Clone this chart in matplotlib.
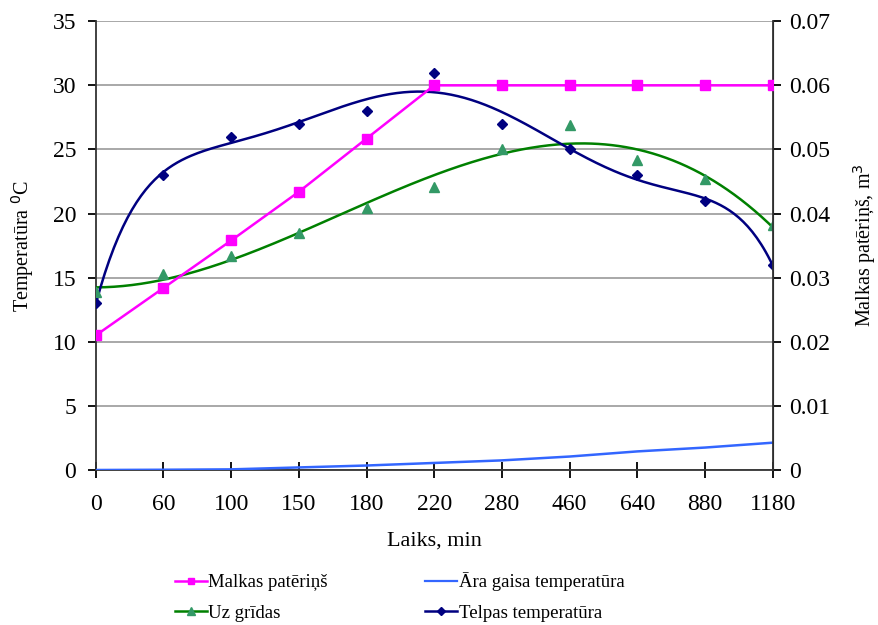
import numpy as np
import matplotlib
matplotlib.use("Agg")
import matplotlib.pyplot as plt

plt.rcParams["font.family"] = ["Liberation Serif", "DejaVu Serif"]

# Dati
laiks = ["0", "60", "100", "150", "180", "220", "280", "460", "640", "880", "1180"]
malkas = [0.021, 0.0284, 0.0358, 0.0434, 0.0517, 0.060, 0.060, 0.060, 0.060, 0.060, 0.060]
uz_gridas = [13.9, 15.3, 16.7, 18.5, 20.4, 22.1, 25.0, 26.9, 24.2, 22.7, 19.1]
telpas = [13.0, 23.0, 26.0, 27.0, 28.0, 31.0, 27.0, 25.0, 23.0, 21.0, 16.0]
ara = [0.0, 0.02, 0.05, 0.2, 0.35, 0.55, 0.75, 1.05, 1.45, 1.75, 2.13]

x = np.arange(len(laiks))
xs = np.linspace(0, len(laiks) - 1, 300)

# trendlīnijas (polinoms, kā Excel)
tr_gridas = np.polyval(np.polyfit(x + 1, uz_gridas, 3), xs + 1)
tr_telpas = np.polyval(np.polyfit(x + 1, telpas, 6), xs + 1)

fig = plt.figure(figsize=(8.79, 6.25), dpi=100)
ax = fig.add_axes([0.109, 0.248, 0.770, 0.718])
ax2 = ax.twinx()

ax.plot(x, ara, color="#3366ff", lw=1.8, zorder=3)
ax.plot(xs, tr_gridas, color="#008000", lw=1.8, zorder=3)
ax.plot(x, uz_gridas, ls="none", marker="^", ms=7, color="#339966", zorder=4)
ax.plot(xs, tr_telpas, color="#000080", lw=1.8, zorder=3)
ax.plot(x, telpas, ls="none", marker="D", ms=5, color="#000080", zorder=4)
ax2.plot(x, malkas, color="#ff00ff", lw=1.8, marker="s", ms=7, zorder=4)

ax.set_xlim(0, len(laiks) - 1)
ax.set_ylim(0, 35)
ax2.set_ylim(0, 0.07)
ax.set_yticks(np.arange(0, 36, 5))
ax2.set_yticks(np.arange(0, 0.071, 0.01))
ax2.set_yticklabels(["0"] + ["%.2f" % v for v in np.arange(0.01, 0.071, 0.01)])
ax.set_xticks(x)
ax.set_xticklabels(laiks)
ax.grid(axis="y", color="#999999", lw=1.2)
ax.set_axisbelow(True)

for s in ["top"]:
    ax.spines[s].set_visible(False)
    ax2.spines[s].set_visible(False)
ax2.spines["left"].set_visible(False)
ax2.spines["bottom"].set_visible(False)
for sp in [ax.spines["left"], ax.spines["bottom"], ax2.spines["right"]]:
    sp.set_color("#333333")
    sp.set_linewidth(1.3)

ax.tick_params(axis="x", direction="inout", length=12, width=1.3, labelsize=17, pad=11)
ax.tick_params(axis="y", direction="out", length=6, width=1.3, labelsize=17, pad=8)
ax2.tick_params(axis="y", direction="out", length=6, width=1.3, labelsize=17, pad=6)

ax.set_xlabel("Laiks, min", fontsize=16, labelpad=12)
ax.set_ylabel("Temperatūra $^0$C", fontsize=14.5)
ax.yaxis.set_label_coords(-0.089, 0.5)
ax2.set_ylabel("Malkas patēriņš, m$^3$", fontsize=14.5, labelpad=15)

h1, = plt.plot([], [], color="#ff00ff", lw=1.8, marker="s", ms=5)
h2, = plt.plot([], [], color="#008000", lw=1.8, marker="^", ms=6, mfc="#339966", mec="#339966")
h3, = plt.plot([], [], color="#3366ff", lw=1.6)
h4, = plt.plot([], [], color="#000080", lw=1.8, marker="D", ms=4)
fig.legend([h1, h2, h3, h4],
           ["Malkas patēriņš", "Uz grīdas", "Āra gaisa temperatūra", "Telpas temperatūra"],
           ncol=2, loc="lower left", bbox_to_anchor=(0.18, -0.022), frameon=False,
           fontsize=13.5, handlelength=1.7, handletextpad=0.08, columnspacing=5.2,
           labelspacing=0.72)

fig.savefig("out.png", dpi=100)
